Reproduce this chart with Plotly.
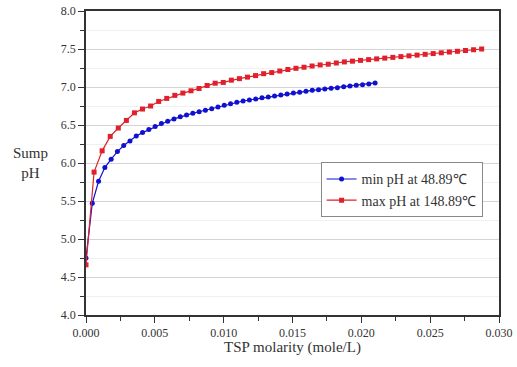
import numpy as np
import plotly.graph_objects as go

# TSP molarity (mole/L) for each series (evenly spaced samples)
blue_x_max = 0.0210
red_x_max = 0.02874

blue_ph = [4.75, 5.47, 5.76, 5.94, 6.05, 6.15, 6.23, 6.29, 6.355, 6.40,
           6.44, 6.48, 6.52, 6.55, 6.58, 6.61, 6.63, 6.655, 6.675, 6.695,
           6.715, 6.737, 6.759, 6.781, 6.798, 6.816, 6.829, 6.842, 6.860, 6.870,
           6.882, 6.895, 6.908, 6.921, 6.930, 6.943, 6.956, 6.965, 6.974, 6.982,
           6.991, 7.004, 7.013, 7.022, 7.031, 7.040, 7.053]
red_ph = [4.66, 5.88, 6.16, 6.35, 6.46, 6.56, 6.66, 6.71, 6.75, 6.81,
          6.85, 6.89, 6.92, 6.95, 6.98, 7.02, 7.05, 7.06, 7.09, 7.11,
          7.13, 7.15, 7.175, 7.19, 7.21, 7.23, 7.246, 7.26, 7.276, 7.29,
          7.30, 7.316, 7.33, 7.34, 7.35, 7.36, 7.37, 7.38, 7.39, 7.40,
          7.41, 7.42, 7.43, 7.44, 7.45, 7.46, 7.47, 7.48, 7.49, 7.50]

blue_x = np.linspace(0, blue_x_max, len(blue_ph))
red_x = np.linspace(0, red_x_max, len(red_ph))

x_ticks = [0.000, 0.005, 0.010, 0.015, 0.020, 0.025, 0.030]
y_ticks = [4.0, 4.5, 5.0, 5.5, 6.0, 6.5, 7.0, 7.5, 8.0]

serif = "Liberation Serif, Times New Roman, serif"

fig = go.Figure()
fig.add_trace(go.Scatter(
    x=blue_x, y=blue_ph, mode="lines+markers", name="min pH at 48.89℃",
    line=dict(color="#1010d0", width=1.2),
    marker=dict(symbol="circle", size=5, color="#1010d0")))
fig.add_trace(go.Scatter(
    x=red_x, y=red_ph, mode="lines+markers", name="max pH at 148.89℃",
    line=dict(color="#e0202a", width=1.2),
    marker=dict(symbol="square", size=5, color="#e0202a")))

axis_common = dict(
    showline=True, linecolor="#333333", linewidth=1.5, mirror=True,
    ticks="outside", ticklen=6, tickwidth=1.2, tickcolor="#333333",
    tickfont=dict(family=serif, size=12, color="#333333"),
    zeroline=False, automargin=False,
)

fig.update_xaxes(
    range=[0, 0.030], tickvals=x_ticks,
    ticktext=[f"{v:.3f}" for v in x_ticks],
    showgrid=False,
    minor=dict(dtick=0.0025, ticks="outside", ticklen=4, tickcolor="#333333", showgrid=False),
    **axis_common)
fig.update_yaxes(
    range=[4.0, 8.0], tickvals=y_ticks,
    ticktext=[f"{v:.1f}" for v in y_ticks],
    showgrid=True, gridcolor="#d4d4d4", gridwidth=1,
    minor=dict(dtick=0.25, ticks="outside", ticklen=4, tickcolor="#333333",
               showgrid=True, gridcolor="#f0f0f0", gridwidth=1),
    **axis_common)

fig.add_annotation(
    text="Sump<br>pH", xref="paper", yref="paper", x=-0.135, y=0.5,
    xanchor="center", yanchor="middle", showarrow=False,
    font=dict(family=serif, size=15, color="#333333"))
fig.add_annotation(
    text="TSP molarity (mole/L)", xref="paper", yref="paper", x=0.5, y=-0.108,
    xanchor="center", yanchor="middle", showarrow=False,
    font=dict(family=serif, size=15, color="#333333"))

fig.update_layout(
    width=517, height=367,
    margin=dict(l=86, r=18, t=11, b=52),
    paper_bgcolor="white", plot_bgcolor="white",
    showlegend=True,
    legend=dict(x=0.568, y=0.502, xanchor="left", yanchor="top",
                bgcolor="white", bordercolor="#888888", borderwidth=1,
                font=dict(family=serif, size=14, color="#333333"),
                tracegroupgap=0),
)

fig.write_html("out.html",
               config={"displayModeBar": False},
               post_script="document.body.style.margin='0';document.body.style.overflow='hidden';")
